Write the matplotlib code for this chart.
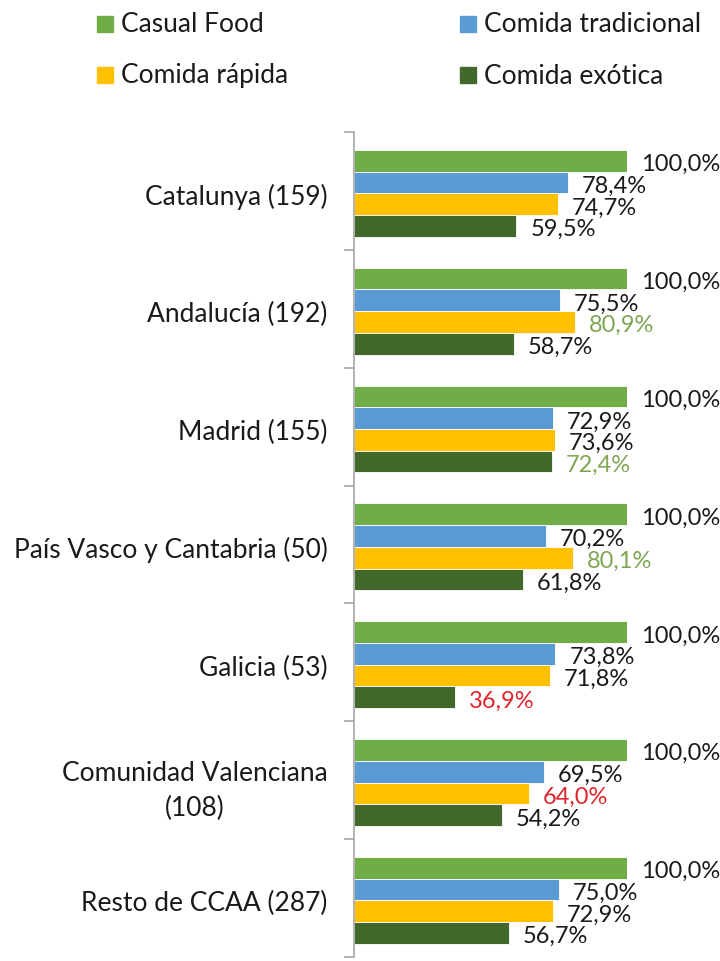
import matplotlib
matplotlib.use('Agg')
import matplotlib.pyplot as plt
from matplotlib.patches import Rectangle
import numpy as np

plt.rcParams['font.family'] = ['Lato', 'DejaVu Sans']

# regions (with sample size) and the four food types
categories = ['Catalunya (159)', 'Andalucía (192)', 'Madrid (155)',
              'País Vasco y Cantabria (50)', 'Galicia (53)',
              'Comunidad Valenciana\n(108)', 'Resto de CCAA (287)']
series = ['Casual Food', 'Comida tradicional', 'Comida rápida', 'Comida exótica']

casual = [100.0, 100.0, 100.0, 100.0, 100.0, 100.0, 100.0]
tradicional = [78.4, 75.5, 72.9, 70.2, 73.8, 69.5, 75.0]
rapida = [74.7, 80.9, 73.6, 80.1, 71.8, 64.0, 72.9]
exotica = [59.5, 58.7, 72.4, 61.8, 36.9, 54.2, 56.7]

# labels shown in colour: (region index, series index, kind)
highlights = [(1, 2, 'up'), (2, 3, 'up'), (3, 2, 'up'),
              (4, 3, 'down'), (5, 2, 'down')]

colors = ['#70AD47', '#5B9BD5', '#FFC000', '#43682B']
hl_colors = {'up': '#7FA653', 'down': '#E0262B'}

values = [casual, tradicional, rapida, exotica]
FS = 17      # value labels
FS_CAT = 19  # region labels and legend

fig = plt.figure(figsize=(7.2, 9.62), dpi=100)
ax = fig.add_axes([354 / 720, 1 - 958 / 962, 273 / 720, (958 - 133) / 962])

n = len(categories)
y = np.arange(n)
h = 0.184
hl = {(c, s): k for c, s, k in highlights}

for j, vals in enumerate(values):
    ypos = y - 1.5 * h + j * h + 0.02
    ax.barh(ypos, vals, height=h, color=colors[j], edgecolor='white',
            linewidth=0.6, label=series[j])
    for i, v in enumerate(vals):
        txt = f'{v:.1f}%'.replace('.', ',')
        col = hl_colors[hl[(i, j)]] if (i, j) in hl else '#1a1a1a'
        ax.annotate(txt, (v, ypos[i]), xytext=(10, -2), textcoords='offset points',
                    ha='left', va='center', fontsize=FS, color=col,
                    annotation_clip=False)

ax.set_xlim(0, 100)
ax.set_ylim(n - 0.5, -0.5)
ax.set_xticks([])
ax.set_yticks(y + 0.02)
ax.set_yticklabels(categories, fontsize=FS_CAT, color='#1a1a1a',
                   multialignment='center', linespacing=1.5)
ax.tick_params(axis='y', which='major', length=0, pad=19)
ax.set_yticks(np.arange(n + 1) - 0.5, minor=True)
ax.tick_params(axis='y', which='minor', length=7, color='#a6a6a6', width=1.2)
for s in ['top', 'right', 'bottom']:
    ax.spines[s].set_visible(False)
ax.spines['left'].set_color('#a6a6a6')
ax.spines['left'].set_linewidth(1.2)

# legend drawn by hand, two columns
leg_pos = [(97, 25), (97, 76), (460, 25), (460, 76)]
leg_order = [0, 2, 1, 3]
for (px, py), k in zip(leg_pos, leg_order):
    fig.patches.append(Rectangle((px / 720, 1 - (py + 8) / 962), 16 / 720, 16 / 962,
                                 transform=fig.transFigure, color=colors[k]))
    fig.text((px + 24) / 720, 1 - py / 962, series[k], fontsize=FS_CAT,
             va='center', ha='left', color='#1a1a1a')

fig.savefig('out.png', dpi=100)
